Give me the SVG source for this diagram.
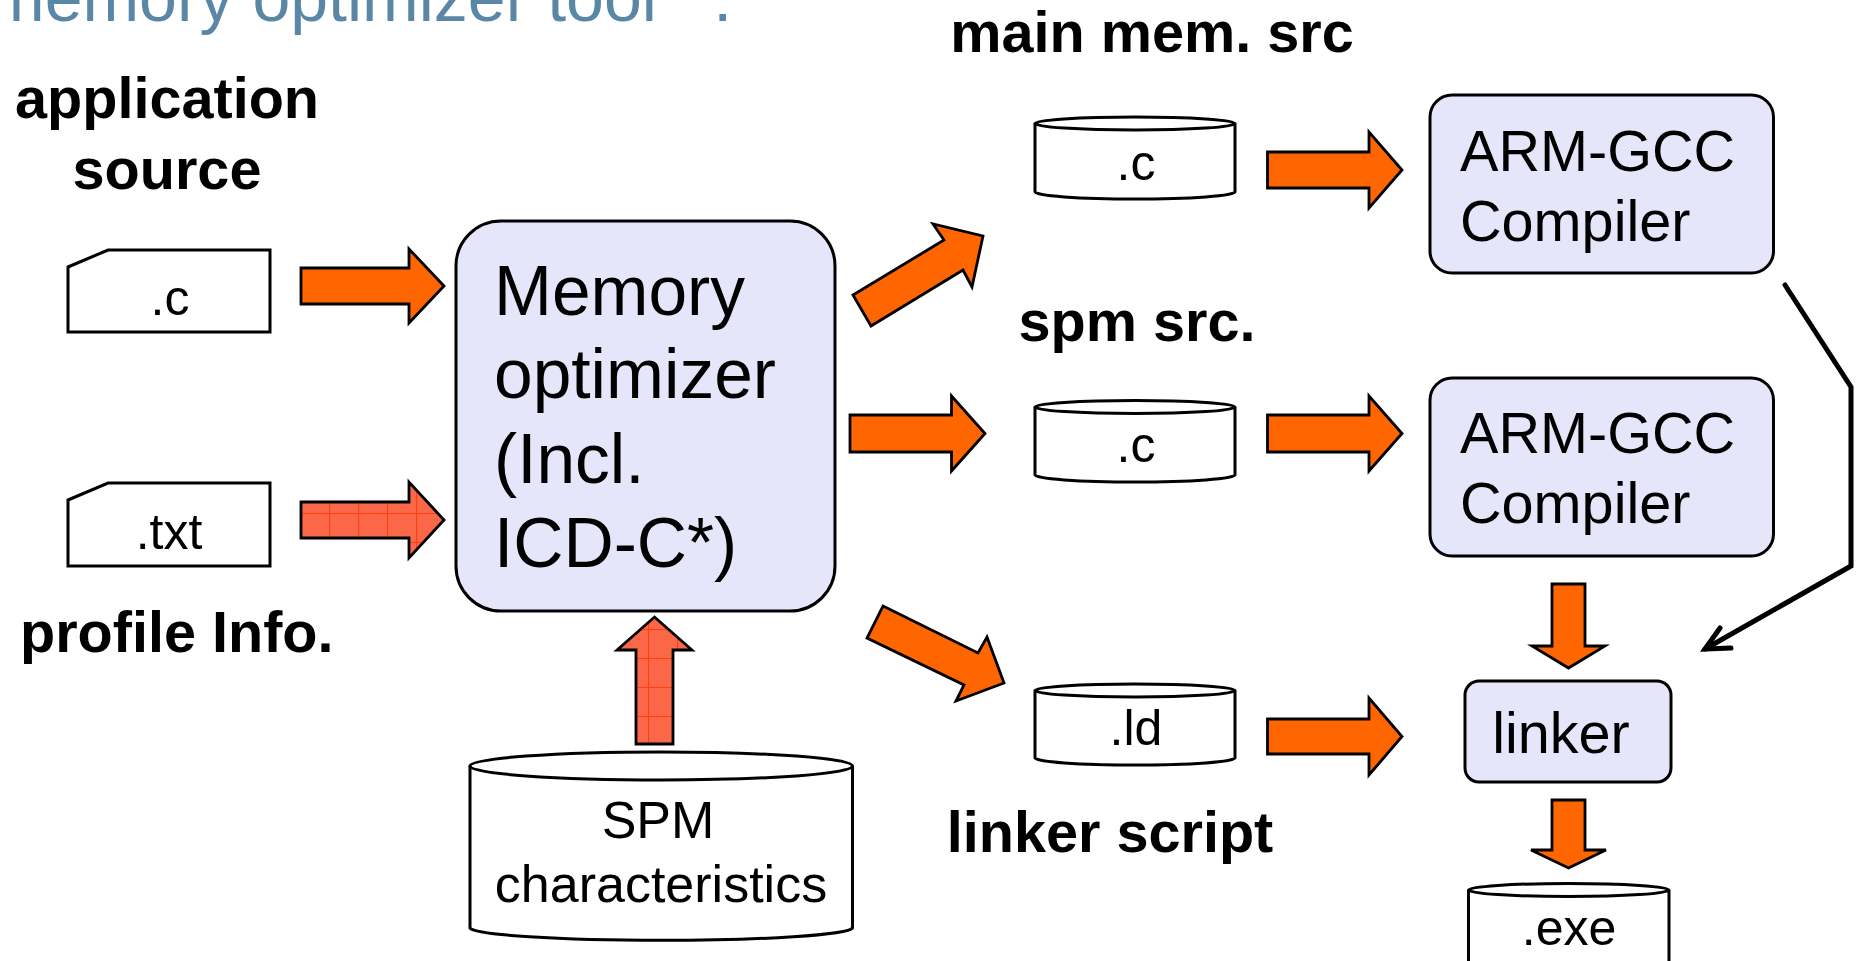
<svg xmlns="http://www.w3.org/2000/svg" width="1857" height="961" viewBox="0 0 1857 961">
<defs>
<style>
.lbl{font-family:"Liberation Sans",Arial,sans-serif;font-weight:bold;font-size:57.6px;fill:#000}
.txt{font-family:"Liberation Sans",Arial,sans-serif;font-size:57.6px;fill:#000}
.sm{font-family:"Liberation Sans",Arial,sans-serif;font-size:50px;fill:#000;text-anchor:middle}
.box{fill:#E6E6FA;stroke:#000;stroke-width:3}
.doc{fill:#fff;stroke:#000;stroke-width:3}
.arr{fill:#FF6600;stroke:#000;stroke-width:2.8;stroke-linejoin:miter}
.tex{fill:url(#grid);stroke:#000;stroke-width:2.8}
.line{fill:none;stroke:#000;stroke-width:5;stroke-linecap:round;stroke-linejoin:miter}
</style>
<pattern id="grid" width="29" height="29" patternUnits="userSpaceOnUse" x="300" y="484">
<rect width="29" height="29" fill="#FA6848"/>
<path d="M0 0.5H29M0.5 0V29" stroke="#FF3F12" stroke-width="1.2" fill="none"/>
</pattern>
</defs>
<rect width="1857" height="961" fill="#fff"/>

<text x="-12" y="21" style="font-family:'Liberation Sans',Arial,sans-serif;font-size:68px;fill:#5A87A6">memory optimizer tool<tspan dx="8">*</tspan><tspan dx="22">:</tspan></text>

<g id="label-app">
<text class="lbl" x="167" y="118" text-anchor="middle">application</text>
<text class="lbl" x="167" y="189" text-anchor="middle">source</text>
</g>
<g id="label-profile"><text class="lbl" x="20" y="652">profile Info.</text></g>
<g id="label-main"><text class="lbl" x="1152" y="52" text-anchor="middle">main mem. src</text></g>
<g id="label-spm"><text class="lbl" x="1137" y="341" text-anchor="middle">spm src.</text></g>
<g id="label-linkerscript"><text class="lbl" x="1110" y="852" text-anchor="middle">linker script</text></g>

<g id="app-c">
<polygon class="doc" points="68,267 108,250 270,250 270,332 68,332"/>
<text class="sm" x="170" y="315">.c</text>
</g>
<g id="profile-txt">
<polygon class="doc" points="68,500 108,483 270,483 270,566 68,566"/>
<text class="sm" x="169" y="549">.txt</text>
</g>

<g id="optimizer">
<rect class="box" x="456" y="221" width="379" height="390" rx="45" ry="45"/>
<text class="txt" x="494" y="315" style="font-size:69.5px">Memory</text>
<text class="txt" x="494" y="398" style="font-size:69.5px">optimizer</text>
<text class="txt" x="494" y="483" style="font-size:69.5px">(Incl.</text>
<text class="txt" x="494" y="567" style="font-size:69.5px">ICD-C*)</text>
</g>

<g id="spm-char">
<path class="doc" d="M470,766 V928 A191.5,13 0 0 0 852.5,928 V766"/>
<ellipse class="doc" cx="661.2" cy="766" rx="191.3" ry="14"/>
<text class="sm" x="658" y="838" style="font-size:52px">SPM</text>
<text class="sm" x="661" y="902" style="font-size:52px">characteristics</text>
</g>

<g id="main-c">
<path class="doc" d="M1035,123.5 V192 A100,7 0 0 0 1235,192 V123.5"/>
<ellipse class="doc" cx="1135" cy="123.5" rx="100" ry="6.5"/>
<text class="sm" x="1136" y="180">.c</text>
</g>
<g id="spm-c">
<path class="doc" d="M1035,407 V475 A100,7 0 0 0 1235,475 V407"/>
<ellipse class="doc" cx="1135" cy="407" rx="100" ry="6.5"/>
<text class="sm" x="1136" y="462">.c</text>
</g>
<g id="ld">
<path class="doc" d="M1035,690.5 V758 A100,7 0 0 0 1235,758 V690.5"/>
<ellipse class="doc" cx="1135" cy="690.5" rx="100" ry="6.5"/>
<text class="sm" x="1136" y="745">.ld</text>
</g>
<g id="exe">
<path class="doc" d="M1468.5,890 V975 H1669 V890"/>
<ellipse class="doc" cx="1568.7" cy="890" rx="100.2" ry="6.5"/>
<text class="sm" x="1569" y="945">.exe</text>
</g>

<g id="gcc1">
<rect class="box" x="1430" y="95" width="343.5" height="178" rx="22" ry="22"/>
<text class="txt" x="1460" y="171">ARM-GCC</text>
<text class="txt" x="1460" y="241">Compiler</text>
</g>
<g id="gcc2">
<rect class="box" x="1430" y="378" width="343.5" height="178" rx="22" ry="22"/>
<text class="txt" x="1460" y="453">ARM-GCC</text>
<text class="txt" x="1460" y="523">Compiler</text>
</g>
<g id="linker">
<rect class="box" x="1465" y="681" width="206" height="101" rx="14" ry="14"/>
<text class="txt" x="1561" y="753" text-anchor="middle">linker</text>
</g>

<g id="connectors">
<polygon class="arr" points="301,268 409,268 409,249 444,286 409,323 409,304 301,304"/>
<polygon class="tex" points="301,502 409,502 409,482 444,520 409,558 409,538 301,538"/>
<polygon class="tex" points="636,744 636,650 617,650 654.5,617 692,650 673,650 673,744"/>
<polygon class="arr" points="853,295 944,240 933,224 983,236 972,287 963,270 871,326"/>
<polygon class="arr" points="850,415 951.5,415 951.5,396 985,433.5 951.5,471 951.5,452 850,452"/>
<polygon class="arr" points="883,606 978,653 987,637 1004,683 956,701 964,685 867,638"/>
<polygon class="arr" points="1267.5,152 1369,152 1369,132 1402,170 1369,208 1369,188 1267.5,188"/>
<polygon class="arr" points="1267.5,415 1369,415 1369,396 1402,433.5 1369,471 1369,452 1267.5,452"/>
<polygon class="arr" points="1267.5,719 1369,719 1369,698 1402,736.5 1369,775 1369,754 1267.5,754"/>
<polygon class="arr" points="1552,584 1585,584 1585,646 1605,646 1568.5,668 1532,646 1552,646"/>
<polygon class="arr" points="1552,800 1585,800 1585,850 1606,850 1568.5,868 1531,850 1552,850"/>
<polyline class="line" points="1785,285 1851,387 1851,566 1705,649"/>
<polyline class="line" points="1720,628 1705,649 1731,648"/>
</g>
</svg>
